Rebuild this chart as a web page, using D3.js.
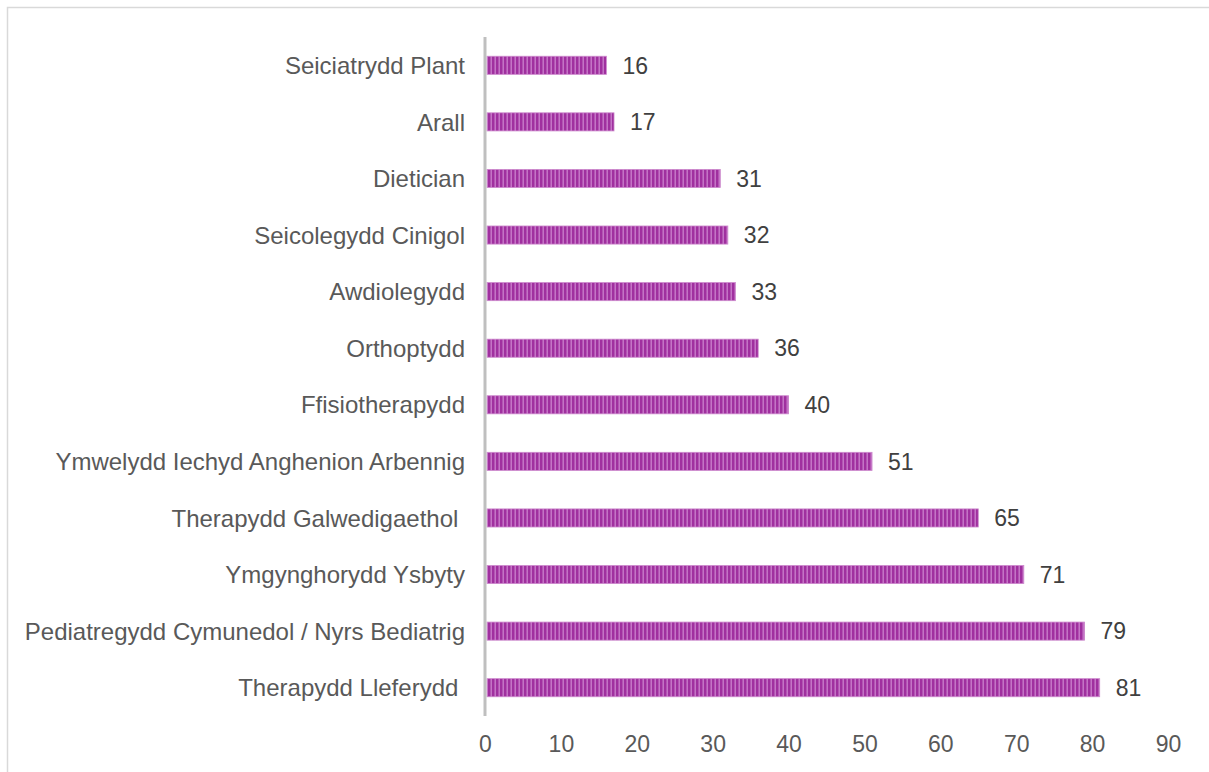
<!DOCTYPE html>
<html><head><meta charset="utf-8">
<script src="https://cdn.jsdelivr.net/npm/d3@7"></script>
<style>body{margin:0;background:#fff;} svg{display:block;} text{white-space:pre;}</style>
</head><body>
<svg id="c" width="1209" height="772"></svg>
<script>
const categories = ["Seiciatrydd Plant","Arall","Dietician","Seicolegydd Cinigol","Awdiolegydd","Orthoptydd","Ffisiotherapydd","Ymwelydd Iechyd Anghenion Arbennig","Therapydd Galwedigaethol ","Ymgynghorydd Ysbyty","Pediatregydd Cymunedol / Nyrs Bediatrig","Therapydd Lleferydd "];
const values = [16,17,31,32,33,36,40,51,65,71,79,81];
const xTicks = [0,10,20,30,40,50,60,70,80,90];

const svg = d3.select("#c");
// chart border
svg.append("rect").attr("x",7.5).attr("y",7.5).attr("width",1210).attr("height",780)
  .attr("fill","none").attr("stroke","#d9d9d9").attr("stroke-width",1.5);

const defs = svg.append("defs");
const pat = defs.append("pattern").attr("id","stripe").attr("patternUnits","userSpaceOnUse")
  .attr("width",4).attr("height",20);
pat.append("rect").attr("width",4).attr("height",20).attr("fill","#c474c6");
pat.append("rect").attr("x",0).attr("width",2).attr("height",20).attr("fill","#a0309f");
pat.append("rect").attr("x",2).attr("width",1).attr("height",20).attr("fill","#b455b4");

const x = d3.scaleLinear().domain([0,90]).range([485,1168]);
const y = d3.scaleBand().domain(categories).range([37,716]).paddingInner(0.68).paddingOuter(0.34);

const font = "'Liberation Sans', Arial, sans-serif";

svg.append("g").selectAll("rect").data(values).join("rect")
  .attr("x", x(0)+2)
  .attr("y",(d,i)=>y(categories[i]))
  .attr("width",d=>x(d)-x(0)-2)
  .attr("height",y.bandwidth())
  .attr("fill","url(#stripe)")
  .attr("stroke","#cc88cc").attr("stroke-width",0.8);

// value labels
svg.append("g").selectAll("text").data(values).join("text")
  .attr("x",d=>x(d)+16)
  .attr("y",(d,i)=>y(categories[i])+y.bandwidth()/2)
  .attr("dy","0.36em")
  .attr("font-family",font).attr("font-size",23).attr("fill","#404040")
  .text(d=>d);

// category labels
const yAxis = d3.axisLeft(y).tickSize(0).tickPadding(20);
const gy = svg.append("g").attr("transform",`translate(${x(0)},0)`).call(yAxis);
gy.select(".domain").remove();
gy.selectAll("text").attr("font-family",font).attr("font-size",24).attr("fill","#595959").attr("dy","0.36em");

// vertical axis line
svg.append("line").attr("x1",x(0)).attr("x2",x(0)).attr("y1",37).attr("y2",716)
  .attr("stroke","#bfbfbf").attr("stroke-width",3);

// x axis ticks labels
const xAxis = d3.axisBottom(x).tickValues(xTicks).tickSize(0).tickPadding(20);
const gx = svg.append("g").attr("transform","translate(0,716)").call(xAxis);
gx.select(".domain").remove();
gx.selectAll("text").attr("font-family",font).attr("font-size",23).attr("fill","#595959");
</script>
</body></html>
